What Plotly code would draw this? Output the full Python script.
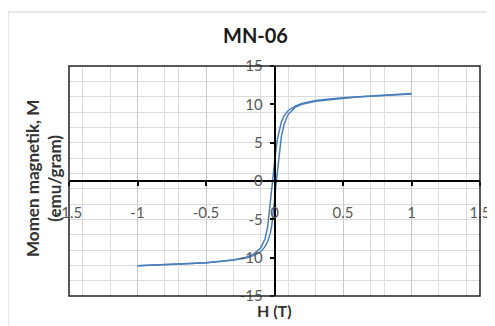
import plotly.graph_objects as go

# Descending branch (H from +1 to -1)
h_desc = [1.0, 0.8, 0.6, 0.5, 0.4, 0.3, 0.2, 0.15, 0.1, 0.07, 0.05, 0.03, 0.02, 0.01, 0.0,
          -0.01, -0.02, -0.03, -0.04, -0.05, -0.07, -0.1, -0.15, -0.2, -0.3, -0.4, -0.5, -0.6, -0.8, -1.0]
m_desc = [11.4, 11.2, 11.0, 10.85, 10.7, 10.5, 10.1, 9.75, 9.2, 8.5, 7.7, 6.4, 5.4, 4.0, 2.3,
          0.4, -1.5, -3.2, -4.8, -6.0, -7.6, -8.7, -9.5, -9.9, -10.3, -10.5, -10.65, -10.75, -10.9, -11.05]
# Ascending branch (H from -1 to +1)
h_asc = [-1.0, -0.8, -0.6, -0.5, -0.4, -0.3, -0.2, -0.15, -0.1, -0.07, -0.05, -0.03, -0.02, -0.01, 0.0,
         0.01, 0.02, 0.03, 0.04, 0.05, 0.07, 0.1, 0.15, 0.2, 0.3, 0.4, 0.5, 0.6, 0.8, 1.0]
m_asc = [-11.05, -10.9, -10.75, -10.65, -10.5, -10.3, -10.0, -9.7, -9.2, -8.6, -7.9, -6.8, -5.8, -4.4, -2.6,
         -0.6, 1.2, 3.0, 4.5, 5.8, 7.4, 8.7, 9.6, 10.0, 10.4, 10.6, 10.8, 10.95, 11.15, 11.35]

x_ticks = [-1.5, -1, -0.5, 0, 0.5, 1, 1.5]
x_tick_labels = ["-1.5", "-1", "-0.5", "0", "0.5", "1", "1.5"]
y_ticks = [-15, -10, -5, 0, 5, 10, 15]
y_tick_labels = ["-15", "-10", "-5", "0", "5", "10", "15"]
x_minor_grid = [-1.4, -1.2, -0.8, -0.7, -0.3, -0.1, 0.1, 0.3, 0.7, 0.8, 1.2, 1.4]
y_minor_grid = [-13, -11, -9, -7, -5, -3, -1, 1, 3, 5, 7, 9, 11, 13]

FONT = "Lato"
BLUE = "#4a7ebb"

fig = go.Figure()
fig.add_trace(go.Scatter(x=h_desc, y=m_desc, mode="lines",
                         line=dict(color=BLUE, width=1.5), showlegend=False))
fig.add_trace(go.Scatter(x=h_asc, y=m_asc, mode="lines",
                         line=dict(color=BLUE, width=1.5), showlegend=False))

# page body has an 8px default margin; compensate so the plot area sits at x 69-480, y 66-296
fig.update_layout(
    width=495, height=326,
    margin=dict(l=61, r=23, t=58, b=38, autoexpand=False),
    paper_bgcolor="white", plot_bgcolor="white",
    font=dict(family=FONT, size=14, color="#595959"),
    xaxis=dict(
        range=[-1.5, 1.5], tickmode="array", tickvals=x_ticks, ticktext=x_tick_labels,
        anchor="free", position=0.5, automargin=False,
        showline=True, linecolor="black", linewidth=1.5,
        ticks="outside", ticklen=4, tickcolor="black", tickwidth=1.5,
        ticklabelstandoff=14,
        showgrid=True, gridcolor="#c8c8c8", gridwidth=1,
        zeroline=False,
        minor=dict(tickmode="array", tickvals=x_minor_grid, showgrid=True,
                   gridcolor="#dcdcdc", gridwidth=1, ticks=""),
        tickfont=dict(family=FONT, size=15, color="#595959"),
    ),
    yaxis=dict(
        range=[-15, 15], tickmode="array", tickvals=y_ticks, ticktext=y_tick_labels,
        anchor="free", position=0.5, automargin=False,
        showline=True, linecolor="black", linewidth=1.5,
        ticks="outside", ticklen=4, tickcolor="black", tickwidth=1.5,
        ticklabelstandoff=4,
        showgrid=False, zeroline=False,
        minor=dict(tickmode="array", tickvals=y_minor_grid, showgrid=True,
                   gridcolor="#dcdcdc", gridwidth=1, ticks=""),
        tickfont=dict(family=FONT, size=15, color="#595959"),
    ),
    shapes=[
        dict(type="rect", xref="paper", yref="paper", x0=0, x1=1, y0=0, y1=1,
             line=dict(color="#222222", width=1.5), layer="above"),
        dict(type="line", xref="paper", yref="paper", x0=-0.1484, x1=1.06, y0=1.2348, y1=1.2348,
             line=dict(color="#d0d0d0", width=1)),
        dict(type="line", xref="paper", yref="paper", x0=-0.1484, x1=-0.1484, y0=-0.16, y1=1.2348,
             line=dict(color="#d0d0d0", width=1)),
    ],
    annotations=[
        dict(text="<b>MN-06</b>", xref="paper", yref="paper", x=0.4526, y=1.135,
             showarrow=False, xanchor="center", yanchor="middle",
             font=dict(family=FONT, size=20, color="#1a1a1a")),
        dict(text="<b>H (T)</b>", xref="paper", yref="paper", x=0.501, y=-0.061,
             showarrow=False, xanchor="center", yanchor="middle",
             font=dict(family=FONT, size=16, color="#333333")),
        dict(text="<b>Momen magnetik, M<br>(emu/gram)</b>", xref="paper", yref="paper",
             x=-0.0608, y=0.509, textangle=-90,
             showarrow=False, xanchor="center", yanchor="middle",
             font=dict(family=FONT, size=17, color="#333333")),
    ],
)

fig.write_html("out.html")
